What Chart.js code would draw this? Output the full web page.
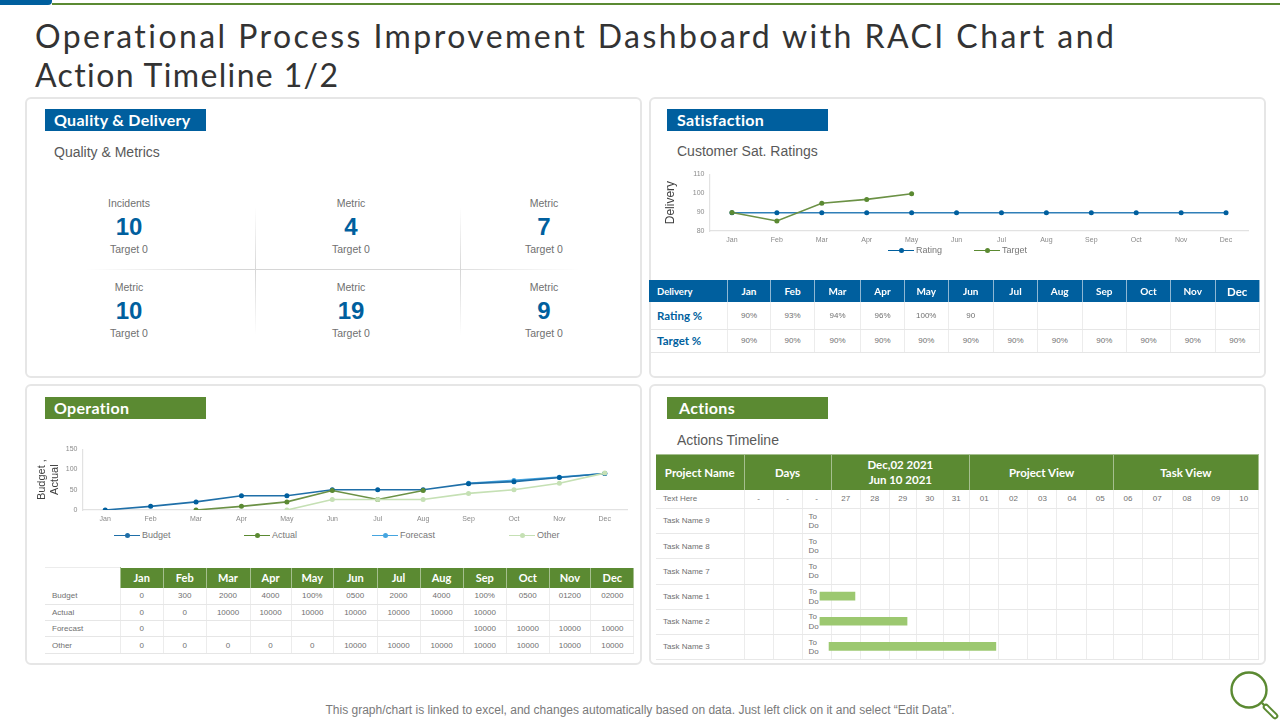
<!DOCTYPE html>
<html><head><meta charset="utf-8">
<script src="https://cdn.jsdelivr.net/npm/chart.js@4"></script>
<style>
*{box-sizing:border-box}
html,body{margin:0;padding:0;background:#fff;width:1280px;height:720px;overflow:hidden;font-family:"Liberation Sans",Arial,sans-serif}
.abs,.card,.tag,.sub,canvas,table,.kpi,.leg{position:absolute}
.ttl{position:absolute;left:35px;font:400 32px Lato,sans-serif;color:#333;white-space:nowrap}
.card{background:#fff;border:2px solid #e6e6e6;border-radius:6px}
.tag{width:161px;height:21.5px;color:#fff;font:700 16px/21px Lato,sans-serif;padding-left:9px;letter-spacing:.3px}
.blue{background:#005f9e}.green{background:#5b8a32}
.sub{font-size:14px;color:#595959;line-height:16px;white-space:nowrap}
.kpi{text-align:center;width:160px;color:#707070;font-size:10.5px;line-height:12px}
.kpi b{display:block;position:absolute;left:0;right:0;top:17px;font-size:24px;line-height:26px;color:#005f9e}
.kpi span{display:block;position:absolute;left:0;right:0;top:46px}
table{border-collapse:collapse;table-layout:fixed;color:#707070}
td,th{padding:0;text-align:center;overflow:hidden;white-space:nowrap}
th{font-family:Lato,sans-serif;font-weight:700;color:#fff}
#sat th{background:#005f9e;font-size:10px;border-right:1px solid #8fb8d4}
#sat td{font-size:8px;border-bottom:1px solid #e6e6e6;border-right:1px solid #ececec}
#sat td:first-child{font:700 11.5px Lato,sans-serif;color:#005f9e;text-align:left;padding-left:8px}
#op th{background:#5b8a32;font-size:11px;border-right:1px solid #a5bf8f}
#op th:first-child{background:#fff;border-top:1px solid #ececec}
#op td{font-size:8px;border-bottom:1px solid #e6e6e6;border-right:1px solid #ececec}
#op td:first-child{text-align:left;padding-left:7px}
#act th{background:#5b8a32;font-size:11.5px;line-height:15px;border-right:1px solid #a5bf8f;border-top:1px solid #a5bf8f;white-space:pre-line}
#act td{font-size:8px;line-height:9.5px;border-bottom:1.5px solid #e8e8e8;border-right:1.5px solid #ececec}
#act td:first-child{text-align:left;padding-left:7px}
#act td.todo{white-space:pre-line;text-align:left;padding-left:6px}
.leg{font-size:9px;color:#777;line-height:11px;white-space:nowrap;padding-left:28px}
.leg i{position:absolute;left:0;top:5px;width:26px;height:1.6px}
.leg u{position:absolute;left:10.5px;top:3.5px;width:5px;height:5px;border-radius:50%}
#foot{position:absolute;left:0;width:1280px;top:703px;text-align:center;font-size:12px;line-height:14px;color:#7a7a7a;white-space:nowrap}
</style></head><body>
<div class="abs" style="left:52px;top:3px;width:1228px;height:1.6px;background:#5b8a32"></div>
<div class="abs" style="left:0;top:0;width:52px;height:5px;background:#005f9e;border-radius:0 0 4px 0"></div>
<div class="ttl" style="top:16.4px;letter-spacing:2.43px">Operational Process Improvement Dashboard with RACI Chart and</div>
<div class="ttl" style="top:55px;letter-spacing:1.37px">Action Timeline 1/2</div>

<div class="card" style="left:25px;top:97px;width:617px;height:281px"></div>
<div class="card" style="left:649px;top:97px;width:617px;height:281px"></div>
<div class="card" style="left:25px;top:384px;width:617px;height:281px"></div>
<div class="card" style="left:649px;top:384px;width:617px;height:281px"></div>

<div class="tag blue" style="left:45px;top:109px">Quality &amp; Delivery</div>
<div class="tag blue" style="left:667px;top:109px;padding-left:10px">Satisfaction</div>
<div class="tag green" style="left:45px;top:397px">Operation</div>
<div class="tag green" style="left:667px;top:397px;padding-left:12px">Actions</div>

<div class="sub" style="left:54px;top:144px">Quality &amp; Metrics</div>
<div class="sub" style="left:677px;top:143px">Customer Sat. Ratings</div>
<div class="sub" style="left:677px;top:432px">Actions Timeline</div>

<div class="abs" style="left:86px;top:268.5px;width:494px;height:1.5px;background:linear-gradient(90deg,#fff,#d6d6d6 30%,#d6d6d6 70%,#fff)"></div>
<div class="abs" style="left:255px;top:207px;width:1.2px;height:128px;background:linear-gradient(180deg,#fff,#d6d6d6 50%,#fff)"></div>
<div class="abs" style="left:460px;top:207px;width:1.2px;height:128px;background:linear-gradient(180deg,#fff,#d6d6d6 50%,#fff)"></div>
<div id="kpis"></div>

<canvas id="satChart" style="left:660px;top:165px" width="600" height="81"></canvas>
<div id="satLegend"></div>
<table id="sat" style="left:649px;top:280px;width:610px"></table>

<canvas id="opChart" style="left:33px;top:440px" width="600" height="85"></canvas>
<div id="opLegend"></div>
<table id="op" style="left:45px;top:567px;width:589px"></table>

<table id="act" style="left:656px;top:454px;width:602px"></table>
<canvas id="ganttChart" style="left:802px;top:508px" width="456" height="151"></canvas>

<div id="foot">This graph/chart is linked to excel, and changes automatically based on data. Just left click on it and select “Edit Data”.</div>
<svg class="abs" style="left:1225px;top:668px" width="55" height="52" viewBox="0 0 55 52">
<circle cx="24" cy="22" r="17.5" fill="none" stroke="#5b8a32" stroke-width="2.4"/>
<line x1="37" y1="35" x2="40" y2="38" stroke="#5b8a32" stroke-width="2.4"/>
<line x1="41" y1="39" x2="50" y2="48" stroke="#5b8a32" stroke-width="6.5" stroke-linecap="round"/>
<line x1="41" y1="39" x2="50" y2="48" stroke="#fff" stroke-width="2.5" stroke-linecap="round"/>
</svg>

<script>
const months = ["Jan","Feb","Mar","Apr","May","Jun","Jul","Aug","Sep","Oct","Nov","Dec"];

const kpiLabels = ["Incidents","Metric","Metric","Metric","Metric","Metric"];
const kpiValues = ["10","4","7","10","19","9"];
const kpiTargets = ["Target 0","Target 0","Target 0","Target 0","Target 0","Target 0"];

const satRating = [89.6,89.6,89.6,89.6,89.6,89.6,89.6,89.6,89.6,89.6,89.6,89.6];
const satTarget = [89.8,85.3,94.7,96.7,99.7,null,null,null,null,null,null,null];
const satTicksMinMax = [80,110];
const satRowRating = ["90%","93%","94%","96%","100%","90","","","","","",""];
const satRowTarget = ["90%","90%","90%","90%","90%","90%","90%","90%","90%","90%","90%","90%"];

const opBudget = [0,9,20,35,35,50,50,50,65,70,80,90];
const opActual = [null,null,0,9,20,48,26,48,null,null,null,null];
const opForecast = [null,null,null,null,null,null,null,null,66,73,81,90];
const opOther = [null,null,null,null,0,26,26,26,41,50,66,91];
const opRowBudget = ["0","300","2000","4000","100%","0500","2000","4000","100%","0500","01200","02000"];
const opRowActual = ["0","0","10000","10000","10000","10000","10000","10000","10000","","",""];
const opRowForecast = ["0","","","","","","","","10000","10000","10000","10000"];
const opRowOther = ["0","0","0","0","0","10000","10000","10000","10000","10000","10000","10000"];

const actHeads = ["Project Name","Days","Dec,02 2021\nJun 10 2021","Project View","Task View"];
const actDays = ["27","28","29","30","31","01","02","03","04","05","06","07","08","09","10"];
const taskNames = ["Task Name 9","Task Name 8","Task Name 7","Task Name 1","Task Name 2","Task Name 3"];
const ganttStart = [null,null,null,-0.39,-0.39,-0.07];
const ganttEnd = [null,null,null,0.84,2.67,5.79];

const BLUE="#1f6fa8",BLUED="#005f9e",GRN="#6b9145",GRND="#5b8a32",SKY="#45a5e0",PALE="#c5e0b4";

document.getElementById("kpis").innerHTML = kpiLabels.map((l,i)=>{
  const cx=[129,351,544][i%3], top=i<3?197:281;
  return `<div class="kpi" style="left:${cx-80}px;top:${top}px">${l}<b>${kpiValues[i]}</b><span>${kpiTargets[i]}</span></div>`;
}).join("");

function colgroup(w){return "<colgroup>"+w.map(x=>`<col style="width:${x}px">`).join("")+"</colgroup>";}
function row(cells,h){return `<tr style="height:${h}px">`+cells.map(c=>`<td>${c}</td>`).join("")+"</tr>";}

document.getElementById("sat").innerHTML = colgroup([78.5,43,44,46,44,43.5,45.5,44,44.5,44.5,44,44.5,44.5])
 +`<tr style="height:22px"><th style="text-align:left;padding-left:8px;font-size:9.5px">Delivery</th>`+months.map(m=>`<th${m=="Dec"?' style="font-size:11.5px"':''}>${m}</th>`).join("")+"</tr>"
 +row(["Rating %",...satRowRating],27)+row(["Target %",...satRowTarget],23);

document.getElementById("op").innerHTML = colgroup([75,43.5,42.5,44,41,42.5,43.5,43,43,43.5,42.5,41.7,43.3])
 +`<tr style="height:20px"><th></th>`+months.map(m=>`<th>${m}</th>`).join("")+"</tr>"
 +row(["Budget",...opRowBudget],17)+row(["Actual",...opRowActual],16)+row(["Forecast",...opRowForecast],16)+row(["Other",...opRowOther],17);

const actW=[88,29,29,29,29.4,28.6,27.6,26.4,26.6,29.4,29,29,30,26.6,28.9,29.5,30,27.5,28.5];
const blank=`<td></td>`.repeat(15);
document.getElementById("act").innerHTML = colgroup(actW)
 +`<tr style="height:35px"><th>${actHeads[0]}</th><th colspan="3">${actHeads[1]}</th><th colspan="5">${actHeads[2]}</th><th colspan="5">${actHeads[3]}</th><th colspan="5">${actHeads[4]}</th></tr>`
 +`<tr style="height:19px"><td>Text Here</td><td>-</td><td>-</td><td>-</td>`+actDays.map(d=>`<td>${d}</td>`).join("")+"</tr>"
 +taskNames.map(t=>`<tr style="height:25.2px"><td>${t}</td><td></td><td></td><td class="todo">To\nDo</td>${blank}</tr>`).join("");

function legend(id,items,top){
  document.getElementById(id).innerHTML=items.map(([t,c,x])=>`<div class="leg" style="left:${x}px;top:${top}px"><i style="background:${c}"></i><u style="background:${c}"></u>${t}</div>`).join("");
}
legend("satLegend",[["Rating",BLUED,888],["Target",GRND,974]],244.5);
legend("opLegend",[["Budget",BLUE,114],["Actual",GRND,244],["Forecast",SKY,372],["Other",PALE,509]],529.5);

function lineDs(label,data,c,pc){return {label,data,borderColor:c,backgroundColor:pc||c,pointBackgroundColor:pc||c,pointBorderColor:pc||c,pointBorderWidth:0,borderWidth:1.6,pointRadius:2.5,tension:0,spanGaps:false};}
function lineOpts(yw,xh,top,right,left,min,max,step,title,tfs,tc){return {
  responsive:false,animation:false,
  layout:{padding:{top,right,left,bottom:0}},
  plugins:{legend:{display:false},tooltip:{enabled:false}},
  scales:{
    x:{offset:true,grid:{display:false,drawTicks:false},border:{color:"#e2e2e2",width:1.2},ticks:{color:"#8a8a8a",font:{size:7,family:"Liberation Sans"},padding:5,autoSkip:false,maxRotation:0},afterFit(s){s.height=xh;}},
    y:{min,max,grid:{display:false,drawTicks:false},border:{color:"#e2e2e2",width:1.2},ticks:{stepSize:step,color:"#8a8a8a",font:{size:7,family:"Liberation Sans"},padding:5},
       title:{display:true,text:title,color:tc,font:{size:tfs,family:"Liberation Sans"},padding:0},afterFit(s){s.width=yw;}}
  }};}

new Chart(document.getElementById("satChart"),{type:"line",
 data:{labels:months,datasets:[lineDs("Target",satTarget,GRN,GRND),lineDs("Rating",satRating,"#2f7fb8",BLUED)]},
 options:lineOpts(46.5,15,7,11.5,3,satTicksMinMax[0],satTicksMinMax[1],10,"Delivery",12,"#404040")});

new Chart(document.getElementById("opChart"),{type:"line",
 data:{labels:months,datasets:[lineDs("Other",opOther,PALE,PALE),lineDs("Actual",opActual,GRN,GRND),lineDs("Budget",opBudget,BLUE,BLUED),lineDs("Forecast",opForecast,SKY,SKY)]},
 options:lineOpts(47.5,15,7,5.5,2,0,150,50,["Budget ,","Actual"],11,"#404040")});

new Chart(document.getElementById("ganttChart"),{type:"bar",
 data:{labels:taskNames,datasets:[{data:ganttStart.map((s,i)=>s===null?null:[s,ganttEnd[i]]),backgroundColor:"#9cc870",barThickness:8,borderWidth:0}]},
 options:{indexAxis:"y",responsive:false,animation:false,layout:{padding:0},
  plugins:{legend:{display:false},tooltip:{enabled:false}},
  scales:{x:{type:"linear",display:false,min:-1.02,max:15},y:{display:false}}}});
</script>
</body></html>
